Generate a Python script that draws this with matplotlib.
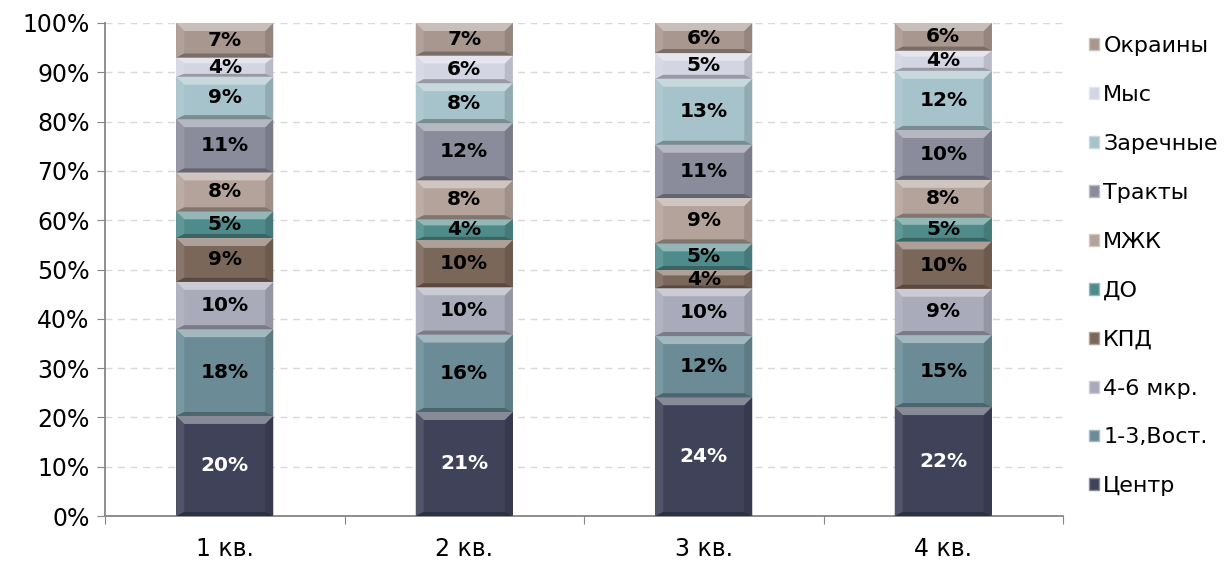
import matplotlib.pyplot as plt
import numpy as np
from matplotlib.patches import Polygon, Patch
from matplotlib.colors import to_rgb
from matplotlib.ticker import PercentFormatter

quarters = ["1 кв.", "2 кв.", "3 кв.", "4 кв."]
districts = ["Центр", "1-3,Вост.", "4-6 мкр.", "КПД", "ДО",
             "МЖК", "Тракты", "Заречные", "Мыс", "Окраины"]

# доли районов по кварталам, %
centr = [20.3, 21.1, 24.1, 22.1]
vost = [17.6, 15.7, 12.4, 14.6]
mkr46 = [9.6, 9.6, 9.7, 9.4]
kpd = [8.9, 9.6, 3.7, 9.6]
do = [5.4, 4.2, 5.4, 4.8]
mzhk = [7.9, 7.9, 9.2, 7.7]
trakty = [10.8, 11.6, 10.8, 10.1]
zarechnye = [8.6, 8.1, 13.4, 12.0]
mys = [3.9, 5.6, 5.2, 4.1]
okrainy = [7.0, 6.6, 6.1, 5.6]

series = [centr, vost, mkr46, kpd, do, mzhk, trakty, zarechnye, mys, okrainy]
colors = ["#3f4259", "#6b8c96", "#a9abba", "#7b665a", "#4f8b8a",
          "#b3a39b", "#8a8c9b", "#a6c2ca", "#d3d5e2", "#a8978f"]


def mix(c, other, t):
    c = np.array(to_rgb(c))
    return tuple(c + (np.array(other) - c) * t)


def bevel(ax, x0, y0, w, h, color, ux, uy):
    # скошенные грани сегмента: светлый верх, тёмный низ
    bx = 8 * ux
    bt = min(8 * uy, h * 0.3)
    bb = min(4 * uy, h * 0.15)
    top = [(x0, y0 + h), (x0 + w, y0 + h), (x0 + w - bx, y0 + h - bt), (x0 + bx, y0 + h - bt)]
    bot = [(x0, y0), (x0 + w, y0), (x0 + w - bx, y0 + bb), (x0 + bx, y0 + bb)]
    left = [(x0, y0), (x0, y0 + h), (x0 + bx, y0 + h - bt), (x0 + bx, y0 + bb)]
    right = [(x0 + w, y0), (x0 + w, y0 + h), (x0 + w - bx, y0 + h - bt), (x0 + w - bx, y0 + bb)]
    for pts, c in [(left, mix(color, (1, 1, 1), 0.10)),
                   (right, mix(color, (0, 0, 0), 0.12)),
                   (top, mix(color, (1, 1, 1), 0.38)),
                   (bot, mix(color, (0, 0, 0), 0.28))]:
        ax.add_patch(Polygon(pts, closed=True, facecolor=c, edgecolor="none", zorder=3))


plt.rcParams["font.family"] = ["DejaVu Sans"]
fig = plt.figure(figsize=(12.31, 5.69), dpi=100)
ax = fig.add_axes([105 / 1231, 1 - 516 / 569, 958 / 1231, 493 / 569])

x = np.arange(len(quarters))
data = np.array(series, dtype=float)
data = data / data.sum(axis=0) * 100
width = 0.405
ux = 4 / 958
uy = 100 / 493

bottom = np.zeros(len(quarters))
handles = []
for name, vals, col in zip(districts, data, colors):
    bars = ax.bar(x, vals, width, bottom=bottom, color=col, zorder=2, label=name)
    for b, v in zip(bars, vals):
        bevel(ax, b.get_x(), b.get_y(), b.get_width(), b.get_height(), col, ux, uy)
        ax.text(b.get_x() + b.get_width() / 2, b.get_y() + b.get_height() / 2,
                f"{v:.0f}%", ha="center", va="center", fontsize=14.5, fontweight="bold",
                color="white" if name == "Центр" else "black", zorder=4)
    handles.append(Patch(facecolor=col, edgecolor=mix(col, (1, 1, 1), 0.4), linewidth=1, label=name))
    bottom += vals

ax.set_xlim(-0.5, 3.5)
ax.set_ylim(0, 100)
ax.set_yticks(np.arange(0, 101, 10))
ax.yaxis.set_major_formatter(PercentFormatter(decimals=0))
ax.set_xticks(np.arange(-0.5, 3.6, 1))
ax.set_xticklabels([])
ax.set_xticks(x, minor=True)
ax.set_xticklabels(quarters, minor=True)
ax.tick_params(axis="x", which="minor", length=0, pad=15, labelsize=17)
ax.tick_params(axis="x", which="major", length=6, color="#868686")
ax.tick_params(axis="y", length=6, color="#868686", labelsize=17, pad=5)
ax.grid(axis="y", color="#d9d9d9", linestyle=(0, (5, 4)), linewidth=1, zorder=0)
for s in ["top", "right"]:
    ax.spines[s].set_visible(False)
for s in ["left", "bottom"]:
    ax.spines[s].set_color("#868686")
    ax.spines[s].set_linewidth(1.3)

fig.legend(handles=handles[::-1], loc="center left", bbox_to_anchor=(1080 / 1231, 0.532),
           frameon=False, fontsize=16, handlelength=0.45, handleheight=0.45,
           handletextpad=0.2, labelspacing=1.3, borderaxespad=0)

fig.savefig("out.png", dpi=100)
